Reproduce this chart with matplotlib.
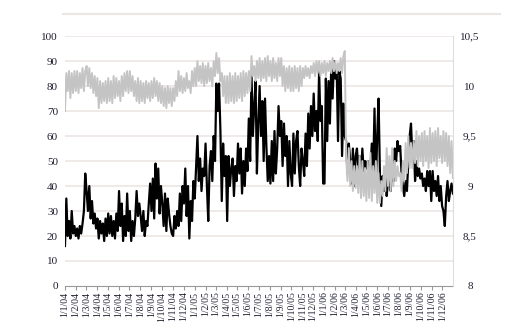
import pandas as pd
import matplotlib
matplotlib.use("Agg")
import matplotlib.pyplot as plt
from matplotlib.lines import Line2D
from matplotlib.ticker import FuncFormatter

plt.rcParams['font.family'] = ['Liberation Serif', 'DejaVu Serif']

# month tick labels, 1/1/04 .. 1/12/06
month_starts = pd.date_range("2004-01-01", "2006-12-01", freq="MS")
month_labels = ["1/%d/%s" % (d.month, str(d.year)[2:]) for d in month_starts]

# black series (left axis), 8 readings per month
black_vals = [
    16, 35, 20, 26, 19, 30, 21, 24,   # Jan 04
    20, 23, 19, 24, 21, 25, 30, 45,
    38, 30, 40, 27, 34, 25, 29, 23,
    27, 19, 26, 21, 25, 18, 27, 20,
    29, 21, 28, 20, 26, 19, 29, 22,
    38, 24, 33, 18, 28, 20, 37, 22,
    30, 18, 26, 20, 27, 38, 28, 33,
    28, 22, 30, 20, 26, 24, 33, 41,
    30, 43, 27, 49, 35, 47, 29, 40,
    33, 24, 37, 22, 35, 29, 24, 21,
    20, 28, 23, 30, 24, 37, 26, 40,
    33, 47, 28, 40, 19, 34, 26, 42,   # Dec 04
    35, 48, 60, 42, 51, 38, 47, 44,   # Jan 05
    57, 40, 26, 48, 54, 42, 60, 50,
    81, 70, 81, 62, 34, 57, 44, 52,
    26, 52, 40, 47, 51, 36, 48, 42,
    57, 45, 55, 37, 50, 40, 55, 46,
    67, 50, 85, 60, 72, 82, 45, 65,
    80, 60, 74, 50, 75, 56, 42, 52,
    41, 58, 42, 62, 45, 55, 72, 60,
    66, 48, 65, 52, 60, 40, 58, 45,
    40, 61, 45, 58, 62, 48, 40, 55,
    50, 44, 61, 48, 69, 55, 72, 60,
    77, 62, 70, 58, 86, 66, 72, 41,   # Dec 05
    41, 83, 58, 82, 65, 88, 75, 90,   # Jan 06
    83, 88, 58, 86, 83, 52, 73, 60,
    58, 45, 57, 50, 41, 55, 40, 52,
    55, 47, 52, 44, 55, 46, 50, 47,
    50, 42, 47, 57, 45, 71, 40, 60,
    75, 45, 32, 44, 38, 47, 36, 42,
    44, 38, 48, 42, 55, 50, 58, 54,
    56, 45, 40, 36, 42, 38, 50, 60,
    65, 52, 58, 42, 50, 44, 47, 43,
    45, 40, 43, 38, 46, 40, 46, 34,
    46, 38, 42, 36, 44, 34, 40, 32,
    30, 24, 36, 42, 34, 38, 41, 37,   # Dec 06
]

# grey series (right axis), 8 readings per month
grey_vals = [
    9.75, 10.13, 9.95, 10.15, 9.88, 10.13, 9.93, 10.15,   # Jan 04
    9.95, 10.15, 9.93, 10.13, 9.98, 10.18, 9.95, 10.15,
    10.2, 10.0, 10.18, 9.98, 10.13, 9.93, 10.1, 9.9,
    10.08, 9.78, 10.05, 9.83, 10.03, 9.85, 10.05, 9.83,
    10.08, 9.85, 10.05, 9.83, 10.1, 9.88, 10.08, 9.9,
    10.05, 9.85, 10.1, 9.9, 10.13, 9.95, 10.15, 9.93,
    10.15, 9.95, 10.1, 9.9, 10.05, 9.85, 10.08, 9.83,
    10.05, 9.85, 10.03, 9.83, 10.05, 9.88, 10.03, 9.85,
    10.05, 9.88, 10.08, 9.9, 10.05, 9.85, 10.03, 9.83,
    10.0, 9.8, 9.98, 9.78, 10.0, 9.83, 9.98, 9.8,
    9.98, 9.85, 10.05, 9.9, 10.15, 9.95, 10.1, 9.93,
    10.08, 9.95, 10.13, 9.98, 10.05, 9.93, 10.15, 10.0,   # Dec 04
    10.18, 10.0, 10.25, 10.05, 10.2, 10.03, 10.23, 10.0,  # Jan 05
    10.2, 10.03, 10.23, 10.05, 10.18, 10.0, 10.25, 10.1,
    10.33, 10.13, 10.28, 10.05, 10.13, 9.9, 10.1, 9.83,
    10.1, 9.83, 10.13, 9.85, 10.1, 9.83, 10.13, 9.85,
    10.1, 9.88, 10.13, 9.85, 10.15, 9.9, 10.13, 9.93,
    10.15, 9.95, 10.3, 10.1, 10.2, 10.05, 10.25, 10.08,
    10.28, 10.05, 10.25, 10.08, 10.28, 10.05, 10.3, 10.1,
    10.25, 10.05, 10.28, 10.08, 10.23, 10.05, 10.28, 10.1,
    10.28, 10.0, 10.2, 9.95, 10.18, 9.98, 10.2, 9.95,
    10.18, 9.95, 10.2, 9.98, 10.18, 9.95, 10.2, 10.0,
    10.18, 10.08, 10.2, 10.1, 10.18, 10.08, 10.2, 10.13,
    10.23, 10.1, 10.25, 10.13, 10.25, 10.1, 10.23, 10.13,  # Dec 05
    10.25, 10.1, 10.23, 10.15, 10.25, 10.13, 10.28, 10.15,  # Jan 06
    10.25, 10.13, 10.23, 10.15, 10.28, 10.13, 10.3, 10.35,
    9.3, 9.05, 9.38, 9.0, 9.25, 8.95, 9.2, 8.98,
    9.2, 8.93, 9.3, 8.88, 9.25, 8.9, 9.18, 8.85,
    9.25, 8.88, 9.33, 8.85, 9.2, 8.93, 9.25, 8.83,
    9.13, 8.83, 9.05, 8.9, 9.2, 8.95, 9.38, 9.0,
    9.3, 8.95, 9.38, 9.0, 9.25, 9.05, 9.2, 9.1,
    9.13, 8.95, 9.25, 9.05, 9.43, 9.13, 9.5, 9.18,
    9.43, 9.18, 9.45, 9.23, 9.55, 9.2, 9.5, 9.25,
    9.53, 9.2, 9.55, 9.25, 9.5, 9.18, 9.58, 9.23,
    9.53, 9.25, 9.55, 9.2, 9.58, 9.28, 9.5, 9.23,
    9.55, 9.25, 9.53, 9.2, 9.5, 9.13, 9.45, 9.08,   # Dec 06
]

left_ticks = [0, 10, 20, 30, 40, 50, 60, 70, 80, 90, 100]
right_ticks = [8, 8.5, 9, 9.5, 10, 10.5]

dates = pd.date_range("2004-01-01", "2006-12-31", periods=len(black_vals))

fig = plt.figure(figsize=(5.24, 3.31), dpi=100)
ax1 = fig.add_axes([0.124, 0.136, 0.741, 0.755])
ax2 = ax1.twinx()

grid_c = '#ece6e4'
for v in left_ticks[1:]:
    ax1.axhline(v, color=grid_c, lw=1.2, zorder=0)

ax1.plot(dates, black_vals, color='black', lw=1.6, zorder=3)
ax2.plot(dates, grey_vals, color='#c4c4c4', lw=1.4, zorder=2)

ax1.set_xlim(pd.Timestamp("2004-01-01"), pd.Timestamp("2007-01-01"))
ax1.set_ylim(0, 100)
ax2.set_ylim(8, 10.5)
ax1.set_yticks(left_ticks)
ax2.set_yticks(right_ticks)
ax2.yaxis.set_major_formatter(FuncFormatter(lambda v, p: ("%g" % v).replace('.', ',')))

txt_c = '#1e1e30'
ax1.set_xticks(month_starts)
ax1.set_xticklabels(month_labels, rotation=90, fontsize=7, color=txt_c)
ax1.tick_params(axis='x', length=3, color='#999999', pad=1)
ax1.tick_params(axis='y', length=0, labelsize=8, pad=5, colors=txt_c)
ax2.tick_params(axis='y', length=0, labelsize=8, pad=12, colors=txt_c)
for lab in ax2.get_yticklabels():
    lab.set_horizontalalignment('center')

for ax in (ax1, ax2):
    for s in ax.spines.values():
        s.set_visible(False)
ax1.spines['bottom'].set_visible(True)
ax1.spines['bottom'].set_color('#999999')
ax2.spines['right'].set_visible(True)
ax2.spines['right'].set_color('#e0dcdc')

fig.add_artist(Line2D([63 / 524, 500 / 524], [1 - 14 / 331] * 2, color='#ece6e4', lw=1.5))

fig.savefig("out.png", dpi=100)
